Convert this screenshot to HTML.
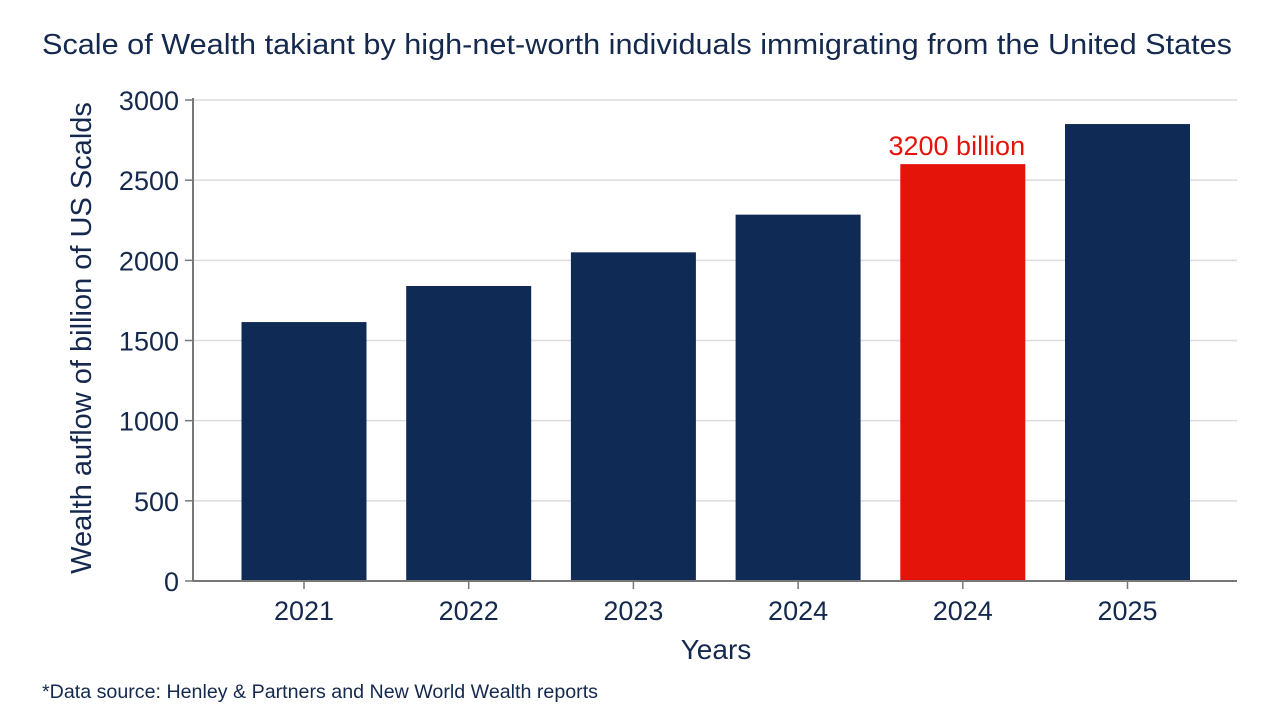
<!DOCTYPE html>
<html><head><meta charset="utf-8"><style>
body{margin:0;background:#fff;width:1280px;height:719px;overflow:hidden;font-family:"Liberation Sans",sans-serif}
</style></head><body>
<svg id="chart" width="1280" height="719" xmlns="http://www.w3.org/2000/svg" font-family="Liberation Sans, sans-serif">
<text x="42" y="54" font-size="29" textLength="1190" lengthAdjust="spacingAndGlyphs" fill="#14294d">Scale of Wealth takiant by high-net-worth individuals immigrating from the United States</text>
<text transform="translate(91,338) rotate(-90)" text-anchor="middle" font-size="29" fill="#14294d">Wealth auflow of billion of US Scalds</text>
<text x="716" y="659" text-anchor="middle" font-size="28" fill="#14294d">Years</text>
<text x="42" y="698" font-size="19" textLength="556" lengthAdjust="spacingAndGlyphs" fill="#14294d">*Data source: Henley &amp; Partners and New World Wealth reports</text>
<g id="grid"></g><g id="bars"></g><g id="axes"></g>
</svg>
<script>
const categories=["2021","2022","2023","2024","2024","2025"];
const values=[1615,1840,2050,2285,2600,2850];
const highlight=[false,false,false,false,true,false];
const yTicks=[0,500,1000,1500,2000,2500,3000];
const annotation="3200 billion";
const NS="http://www.w3.org/2000/svg";
const x0=193,x1=1237,y0=581,y1=100,yMax=3000;
const y=v=>y0-(v/yMax)*(y0-y1);
const step=164.7,first=304,bw=125;
const xc=i=>first+i*step;
function mk(tag,a,p){const e=document.createElementNS(NS,tag);for(const k in a)e.setAttribute(k,a[k]);p.appendChild(e);return e;}
const grid=document.getElementById('grid'),bars=document.getElementById('bars'),axes=document.getElementById('axes');
yTicks.forEach(t=>{
 if(t>0){const g=mk('line',{x1:x0,x2:x1,y1:y(t),y2:y(t),stroke:'#dcdcdc','stroke-width':1.5},grid);
 
 }
 const tk=mk('line',{x1:x0-8,x2:x0,y1:y(t),y2:y(t),stroke:'#777','stroke-width':1.5},axes);
 
 
 const l=mk('text',{x:179,y:y(t)+10,'text-anchor':'end','font-size':27,fill:'#14294d'},axes);l.textContent=t;
 
 
});
values.forEach((v,i)=>{
 const r=mk('rect',{x:xc(i)-bw/2,y:y(v),width:bw,height:y0-y(v),fill:highlight[i]?'#e5140a':'#0f2a55'},bars);
 
 
 const tk=mk('line',{x1:xc(i),x2:xc(i),y1:y0,y2:y0+8,stroke:'#777','stroke-width':1.5},axes);
 
 
 const l=mk('text',{x:xc(i),y:620,'text-anchor':'middle','font-size':27,fill:'#14294d'},axes);l.textContent=categories[i];
 
 
 if(highlight[i]){const a=mk('text',{x:xc(i)-6,y:y(v)-9,'text-anchor':'middle','font-size':27,fill:'#e5140a'},axes);a.textContent=annotation;
 
 }
});
const ya=mk('line',{x1:x0,x2:x0,y1:y1-2,y2:y0,stroke:'#777','stroke-width':2},axes);


const xa=mk('line',{x1:x0,x2:x1,y1:y0,y2:y0,stroke:'#777','stroke-width':2},axes);


</script>
</body></html>
